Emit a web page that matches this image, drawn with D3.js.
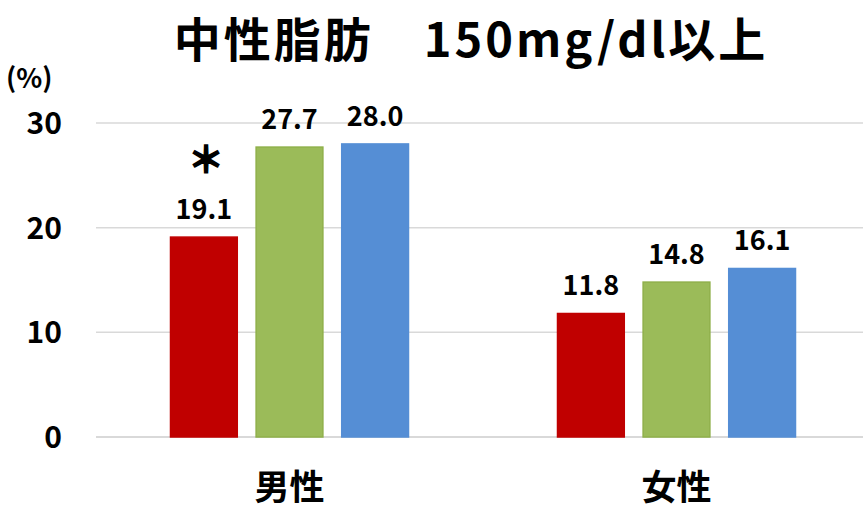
<!DOCTYPE html>
<html>
<head>
<meta charset="utf-8">
<script src="https://cdn.jsdelivr.net/npm/d3@7"></script>
<style>
  body { margin: 0; background: #fff; }
  text { font-family: "Noto Sans CJK JP", "Noto Sans", sans-serif; font-weight: bold; fill: #000; }
</style>
</head>
<body>
<svg id="chart"></svg>
<script>
const categories = ['男性', '女性']
const seriesNames = ['s1', 's2', 's3']
const values = [
  [19.1, 27.7, 28.0],
  [11.8, 14.8, 16.1]
]
const marks = [['＊', '', ''], ['', '', '']]
const yTicks = [0, 10, 20, 30]
const colors = ['#c00000', '#9bbb59', '#558ed5']
const strokes = ['#c00000', '#8fb04a', '#558ed5']

const w = 863, h = 513
const margin = {left: 96, right: -7, top: 123, bottom: 76}

const svg = d3.select('#chart').attr('width', w).attr('height', h)

const x = d3.scaleBand(categories, [margin.left, w - margin.right])
const y = d3.scaleLinear([0, 30], [h - margin.bottom, margin.top])

// gridlines
svg.append('g')
  .selectAll('line')
  .data(yTicks)
  .enter().append('line')
    .attr('x1', margin.left)
    .attr('x2', w)
    .attr('y1', d => y(d))
    .attr('y2', d => y(d))
    .attr('stroke', '#d9d9d9')
    .attr('stroke-width', d => d == 0 ? 2 : 1.5)

// y tick labels
svg.append('g')
  .selectAll('text')
  .data(yTicks)
  .enter().append('text')
    .attr('x', 62)
    .attr('y', d => y(d) + 11)
    .attr('text-anchor', 'end')
    .attr('font-size', 30)
    .text(d => d)

svg.append('text')
  .attr('x', 6)
  .attr('y', 88)
  .attr('font-size', 27)
  .attr('font-weight', 'normal')
  .text('(%)')

svg.append('text')
  .attr('x', 471)
  .attr('y', 57)
  .attr('text-anchor', 'middle')
  .attr('font-size', 47)
  .attr('letter-spacing', 3)
  .text('中性脂肪　150mg/dl以上')

const inner = d3.scaleBand(seriesNames, [0, 238]).paddingInner(0.22)
const groupOffset = (x.bandwidth() - 238) / 2

const groups = svg.append('g')
  .selectAll('g')
  .data(values)
  .enter().append('g')
    .attr('transform', (d, i) => `translate(${x(categories[i]) + groupOffset},0)`)

groups.selectAll('rect')
  .data(d => d)
  .enter().append('rect')
    .attr('x', (d, i) => inner(seriesNames[i]))
    .attr('width', inner.bandwidth())
    .attr('y', d => y(d))
    .attr('height', d => y(0) - y(d))
    .attr('fill', (d, i) => colors[i])
    .attr('stroke', (d, i) => strokes[i])
    .attr('stroke-width', 1.5)

groups.selectAll('text.val')
  .data(d => d)
  .enter().append('text')
    .attr('class', 'val')
    .attr('x', (d, i) => inner(seriesNames[i]) + inner.bandwidth() / 2)
    .attr('y', d => y(d) - 18)
    .attr('text-anchor', 'middle')
    .attr('font-size', 27)
    .text(d => d.toFixed(1))

groups.selectAll('text.mark')
  .data((d, gi) => d.map((v, i) => ({v, m: marks[gi][i]})))
  .enter().append('text')
    .attr('class', 'mark')
    .attr('x', (d, i) => inner(seriesNames[i]) + inner.bandwidth() / 2 + 2)
    .attr('y', d => y(d.v) - 64)
    .attr('text-anchor', 'middle')
    .attr('font-size', 36)
    .attr('stroke', '#000')
    .attr('stroke-width', 1.5)
    .text(d => d.m)

// category labels
svg.append('g')
  .selectAll('text')
  .data(categories)
  .enter().append('text')
    .attr('x', d => x(d) + x.bandwidth() / 2)
    .attr('y', 500)
    .attr('text-anchor', 'middle')
    .attr('font-size', 35)
    .text(d => d)
</script>
</body>
</html>
